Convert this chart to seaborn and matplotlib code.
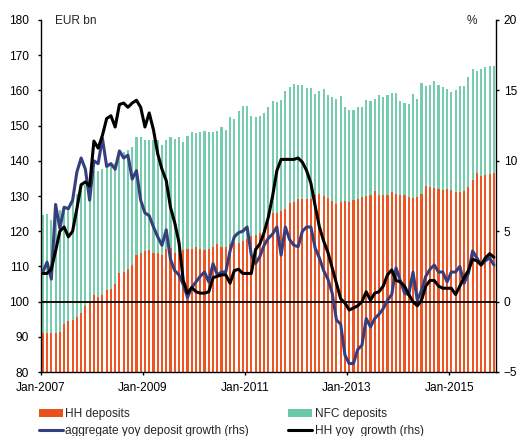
"""
Deposits chart: HH + NFC deposits (stacked bars, EUR bn) with yoy growth lines (rhs, %).
"""
import numpy as np
import pandas as pd
import matplotlib
matplotlib.use("Agg")
import matplotlib.pyplot as plt
from matplotlib.patches import Patch
from matplotlib.lines import Line2D
import seaborn as sns

# -----------------------------
# Data (monthly, Jan-2007 .. Nov-2015)
# -----------------------------
hh_deposits = [
    91.2, 91.2, 91.0, 91.2, 91.3, 93.5, 94.5, 94.7, 95.7, 96.7,
    98.8, 99.8, 101.8, 101.4, 101.8, 103.3, 103.7, 104.9, 108.0, 108.4,
    109.2, 110.3, 113.2, 113.7, 114.3, 114.7, 113.9, 113.9, 113.2, 115.0,
    115.2, 113.7, 113.4, 114.6, 114.9, 115.0, 115.6, 114.9, 114.7, 115.0,
    115.6, 116.3, 115.5, 115.5, 116.3, 117.0, 116.6, 117.1, 117.7, 118.5,
    118.8, 119.4, 120.5, 122.5, 125.1, 125.3, 125.6, 126.2, 128.1, 128.3,
    129.1, 129.2, 129.2, 129.1, 130.3, 130.6, 130.0, 129.3, 128.6, 127.7,
    128.2, 128.6, 128.4, 128.9, 129.1, 129.6, 130.0, 130.4, 131.4, 130.4,
    130.2, 130.3, 131.0, 130.6, 130.3, 130.4, 129.8, 129.5, 129.8, 130.5,
    132.8, 132.5, 132.2, 132.0, 131.8, 132.0, 131.6, 131.0, 131.0, 131.3,
    132.6, 134.6, 136.6, 135.8, 136.0, 136.3, 136.6,
]

# HH + NFC (top of the stacked bar)
total_deposits = [
    124.6, 124.8, 123.2, 126.0, 126.0, 126.7, 126.3, 128.9, 130.5, 131.5,
    133.0, 135.0, 137.0, 137.2, 137.8, 138.2, 138.6, 139.5, 141.6, 142.6,
    143.2, 143.9, 146.8, 146.7, 145.8, 145.8, 146.0, 145.8, 144.4, 146.0,
    146.8, 146.3, 146.8, 145.2, 147.0, 148.2, 147.8, 148.3, 148.5, 148.1,
    148.3, 148.6, 149.7, 148.7, 152.4, 152.0, 154.1, 155.6, 155.6, 152.7,
    152.5, 152.8, 153.5, 155.2, 156.9, 156.7, 157.3, 159.9, 160.9, 161.8,
    161.6, 161.4, 160.7, 160.7, 159.0, 159.8, 160.3, 158.8, 158.0, 157.6,
    158.5, 155.4, 154.4, 154.4, 155.4, 155.2, 157.3, 156.9, 157.6, 158.6,
    158.2, 158.6, 159.2, 159.2, 156.9, 156.3, 156.1, 159.0, 157.6, 162.0,
    161.3, 161.5, 162.6, 161.5, 161.1, 160.3, 159.6, 160.1, 161.3, 161.3,
    163.7, 166.0, 165.4, 166.0, 166.7, 166.9, 166.9,
]

agg_growth = [
    2.1, 2.8, 1.6, 6.9, 5.2, 6.7, 6.6, 7.2, 9.2, 10.2,
    9.4, 7.2, 10.0, 9.8, 11.6, 9.6, 9.8, 9.4, 10.7, 10.2,
    10.4, 8.7, 9.3, 7.2, 6.3, 6.1, 5.3, 4.6, 4.0, 5.1,
    3.0, 2.2, 1.9, 1.2, 0.3, 1.0, 1.4, 1.8, 2.1, 1.4,
    2.7, 1.9, 2.1, 2.1, 3.6, 4.6, 4.9, 5.0, 5.3, 3.3,
    2.7, 3.2, 4.0, 4.5, 4.8, 5.3, 3.3, 5.3, 4.4, 4.0,
    3.9, 5.0, 5.3, 5.3, 3.8, 3.1, 2.2, 1.6, 0.6, -1.3,
    -1.6, -3.8, -4.4, -4.4, -3.4, -3.1, -1.2, -1.8, -1.2, -0.9,
    -0.5, 0.1, 0.5, 2.4, 1.5, 0.6, 0.5, 2.1, 0.1, 0.8,
    1.8, 2.3, 2.6, 2.1, 2.1, 1.4, 2.1, 2.1, 2.5, 1.3,
    2.0, 3.6, 3.1, 2.6, 2.9, 3.1, 2.6,
]

hh_growth = [
    2.0, 2.0, 2.3, 3.6, 5.0, 5.3, 4.6, 5.0, 6.6, 8.3,
    8.5, 8.2, 11.4, 10.9, 11.8, 13.0, 13.2, 12.4, 14.0, 14.1,
    13.8, 14.1, 14.3, 13.8, 12.4, 13.4, 12.2, 10.5, 9.4, 8.6,
    6.7, 5.6, 4.2, 1.5, 0.6, 1.0, 0.7, 0.6, 0.6, 0.7,
    1.7, 1.8, 1.9, 1.9, 1.3, 2.2, 2.3, 2.0, 2.0, 2.0,
    3.7, 4.1, 4.9, 6.0, 7.5, 9.3, 10.1, 10.1, 10.1, 10.1,
    10.2, 9.9, 9.3, 8.4, 6.8, 5.3, 4.3, 3.5, 2.4, 1.3,
    0.2, -0.1, -0.6, -0.45, -0.3, 0.0, 0.7, 0.1, 0.6, 0.7,
    1.1, 1.9, 2.25, 1.5, 1.4, 1.1, 0.5, 0.0, -0.3, 0.1,
    1.1, 1.5, 1.5, 1.1, 0.95, 0.95, 0.95, 0.5, 1.1, 1.7,
    2.2, 3.0, 2.9, 2.6, 3.1, 3.4, 3.15,
]

tick_labels = ["Jan-2007", "Jan-2009", "Jan-2011", "Jan-2013", "Jan-2015"]

HH_COLOR = "#EE5524"
NFC_COLOR = "#76CCAD"
AGG_COLOR = "#363F7E"


def main():
    months = pd.date_range("2007-01-01", periods=len(hh_deposits), freq="MS")
    df = pd.DataFrame({
        "month": months.strftime("%Y-%m"),
        "hh": hh_deposits,
        "total": total_deposits,
        "agg": agg_growth,
        "hh_yoy": hh_growth,
    })
    df["pos"] = np.arange(len(df))

    sns.set_style("white")
    plt.rcParams["font.family"] = ["Liberation Sans", "DejaVu Sans"]
    fs = 8.6

    fig = plt.figure(figsize=(5.2, 4.36), dpi=100)
    ax = fig.add_axes([40.7 / 520, 1 - 372 / 436, (496 - 40.7) / 520, 352 / 436])

    # stacked bars: total (NFC on top) drawn first, HH over it
    sns.barplot(data=df, x="month", y="total", color=NFC_COLOR, saturation=1,
                width=0.5, linewidth=0, ax=ax)
    sns.barplot(data=df, x="month", y="hh", color=HH_COLOR, saturation=1,
                width=0.5, linewidth=0, ax=ax)
    ax.axhline(100, color="black", lw=1.3, zorder=3)

    ax.set_xlim(-0.5, len(df) - 0.5)
    ax.set_ylim(80, 180)
    ax.set_yticks(range(80, 181, 10))
    ax.set_xticks([-0.5 + 24 * k for k in range(len(tick_labels))])
    ax.set_xticklabels(tick_labels)
    ax.set_xlabel("")
    ax.set_ylabel("")

    ax2 = ax.twinx()
    sns.lineplot(data=df, x="pos", y="agg", color=AGG_COLOR, lw=2.2, ax=ax2)
    sns.lineplot(data=df, x="pos", y="hh_yoy", color="black", lw=2.2, ax=ax2)
    ax2.set_ylim(-5, 20)
    ax2.set_yticks(range(-5, 21, 5))
    ax2.set_ylabel("")
    ax2.set_xlabel("")
    ax2.set_xlim(-0.5, len(df) - 0.5)

    for a in (ax, ax2):
        a.spines["top"].set_visible(False)
        for side in ("left", "right", "bottom"):
            a.spines[side].set_color("black")
            a.spines[side].set_linewidth(1.0)
    ax.spines["right"].set_visible(False)
    ax2.spines["left"].set_visible(False)
    ax2.spines["bottom"].set_visible(False)

    ax.tick_params(axis="y", left=True, direction="out", length=2.5, width=1,
                   pad=6, labelsize=fs, colors="black")
    ax.tick_params(axis="x", bottom=True, direction="out", length=2.5, width=1,
                   pad=5, labelsize=fs, colors="black")
    ax2.tick_params(axis="y", right=True, direction="out", length=2.5, width=1,
                    pad=3, labelsize=fs, colors="black")

    fig.text(55 / 520, 1 - 21 / 436, "EUR bn", fontsize=fs, va="center", ha="left")
    fig.text(477 / 520, 1 - 21 / 436, "%", fontsize=fs, va="center", ha="right")

    handles = [
        Patch(facecolor="#E8501C", edgecolor="none", label="HH deposits"),
        Line2D([], [], color=AGG_COLOR, lw=2.2, label="aggregate yoy deposit growth (rhs)"),
        Patch(facecolor="#6CC9A8", edgecolor="none", label="NFC deposits"),
        Line2D([], [], color="black", lw=2.2, label="HH yoy  growth (rhs)"),
    ]
    fig.legend(handles=handles, ncol=2, loc="upper left",
               bbox_to_anchor=(39 / 520, 1 - 408 / 436), frameon=False,
               fontsize=fs, handlelength=2.0, handleheight=0.7,
               handletextpad=0.2, columnspacing=3.3, labelspacing=0.45,
               borderpad=0, borderaxespad=0)

    fig.savefig("out.png", dpi=100)
    plt.close(fig)


if __name__ == "__main__":
    main()
